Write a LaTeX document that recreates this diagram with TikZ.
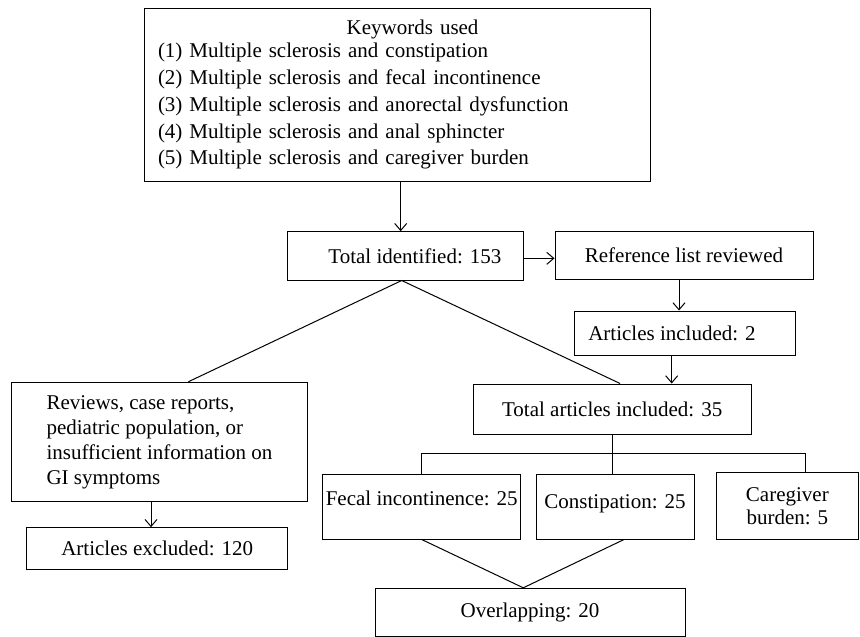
\documentclass[tikz,border=0pt]{standalone}
\usepackage{fontspec}
\setmainfont{Liberation Serif}
\usetikzlibrary{arrows.meta}
\begin{document}
\begin{tikzpicture}[x=1pt,y=-1pt,
  box/.style={draw, line width=1pt, inner sep=0pt, align=center,
    font=\fontsize{21}{26.7}\selectfont},
  arr/.style={line width=1pt, -{Straight Barb[length=7pt,width=12pt]}},
  ln/.style={line width=1pt}]
\useasboundingbox (0,0) rectangle (860,637);

\node[box, minimum width=505.5pt, minimum height=172.7pt, text width=478.5pt,
  inner xsep=13.5pt, align=left] (kw) at (397.25,94.65)
  {\hspace*{188.7pt}Keywords used\\[-3.4pt]
   (1) Multiple sclerosis and constipation\\
   (2) Multiple sclerosis and fecal incontinence\\
   (3) Multiple sclerosis and anorectal dysfunction\\
   (4) Multiple sclerosis and anal sphincter\\
   (5) Multiple sclerosis and caregiver burden};

\node[box, minimum width=235.3pt, minimum height=48.3pt] (total) at (405.35,255.85)
  {\hspace*{19pt}Total identified: 153};
\node[box, minimum width=258pt, minimum height=47.3pt] (ref) at (684,255.35)
  {Reference list reviewed};
\node[box, minimum width=221pt, minimum height=44pt] (art2) at (684.5,333)
  {Articles included: 2\hspace*{25pt}};
\node[box, minimum width=277.7pt, minimum height=50pt] (tot35) at (612.15,409)
  {Total articles included: 35};
\node[box, minimum width=295.6pt, minimum height=119.4pt, align=left,
  font=\fontsize{21}{25}\selectfont] (rev) at (159.5,442)
  {Reviews, case reports,\\
   pediatric population, or\\
   insufficient information on\\
   GI symptoms};
\node[box, minimum width=261pt, minimum height=41.6pt] (excl) at (157.2,548.5)
  {Articles excluded: 120};
\node[box, minimum width=198pt, minimum height=65pt] (fecal) at (421.7,506.5)
  {\raisebox{8pt}[\height][\depth]{Fecal incontinence: 25}};
\node[box, minimum width=158pt, minimum height=65pt] (cons) at (615,506.5)
  {\raisebox{3pt}[\height][\depth]{Constipation: 25}};
\node[box, minimum width=141.3pt, minimum height=66.3pt,
  font=\fontsize{21}{23.3}\selectfont] (care) at (787.35,505.9)
  {Caregiver\\burden: 5};
\node[box, minimum width=310pt, minimum height=47.7pt] (over) at (530,612.15)
  {Overlapping: 20};

% arrows
\draw[arr] ([xshift=3.45pt]kw.south) -- ([xshift=3.45pt]kw.south |- total.north);
\draw[arr] ([yshift=-2.5pt]total.east) -- ([yshift=-2.5pt]total.east -| ref.west);
\draw[arr] ([xshift=-5pt]ref.south) -- ([xshift=-5pt]ref.south |- art2.north);
\draw[arr] ([xshift=-12.8pt]art2.south) -- ([xshift=-12.8pt]art2.south |- tot35.north);
\draw[arr] ([xshift=-8.5pt]rev.south) -- ([xshift=-8.5pt]rev.south |- excl.north);

% diagonal lines
\draw[ln] ([xshift=28.8pt]rev.north) -- ([xshift=-3.65pt]total.south)
  -- ([xshift=7.9pt]tot35.north);

% tree
\coordinate (hbar) at (0,453.3);
\draw[ln] (tot35.south) -- (tot35.south |- cons.north);
\draw[ln] (fecal.north) -- (fecal.north |- hbar)
  -- ([xshift=18.4pt]care.north |- hbar) -- ([xshift=18.4pt]care.north);

% overlap lines
\draw[ln] (fecal.south) -- ([xshift=-6.7pt]over.north)
  -- ([xshift=9pt]cons.south);
\end{tikzpicture}
\end{document}
